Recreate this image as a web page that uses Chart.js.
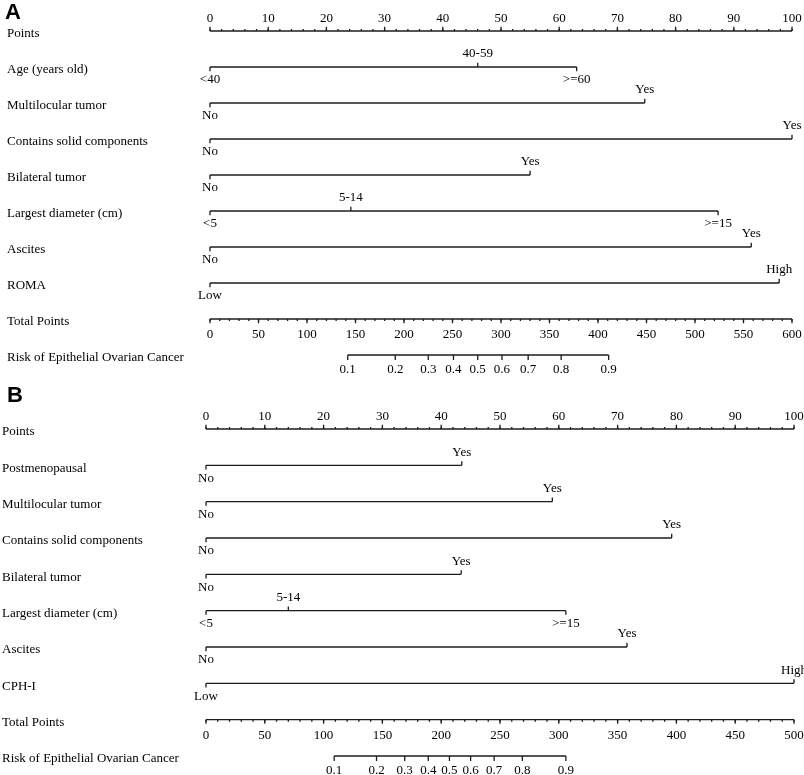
<!DOCTYPE html>
<html>
<head>
<meta charset="utf-8">
<script src="https://cdn.jsdelivr.net/npm/chart.js@4/dist/chart.umd.min.js"></script>
<style>
body { margin: 0; background: #fff; }
canvas { display: block; }
</style>
</head>
<body>
<canvas id="chartA" width="804" height="385"></canvas>
<canvas id="chartB" width="804" height="390"></canvas>
<script>
// ---- panel A data ----
var rowNamesA = ['Points', 'Age (years old)', 'Multilocular tumor', 'Contains solid components',
    'Bilateral tumor', 'Largest diameter (cm)', 'Ascites', 'ROMA', 'Total Points',
    'Risk of Epithelial Ovarian Cancer'];
var ageLevels = ['<40', '40-59', '>=60'];
var agePointsA = [0, 46, 63];
var yesNo = ['No', 'Yes'];
var multilocularPointsA = [0, 74.7];
var solidPointsA = [0, 100];
var bilateralPointsA = [0, 55];
var diameterLevels = ['<5', '5-14', '>=15'];
var diameterPointsA = [0, 24.2, 87.3];
var ascitesPointsA = [0, 93];
var romaLevels = ['Low', 'High'];
var romaPointsA = [0, 97.8];
var totalMaxA = 600;
var riskLabels = ['0.1', '0.2', '0.3', '0.4', '0.5', '0.6', '0.7', '0.8', '0.9'];
var riskTotalA = [142, 191, 225, 251, 276, 301, 328, 362, 411];

// ---- panel B data ----
var rowNamesB = ['Points', 'Postmenopausal', 'Multilocular tumor', 'Contains solid components',
    'Bilateral tumor', 'Largest diameter (cm)', 'Ascites', 'CPH-I', 'Total Points',
    'Risk of Epithelial Ovarian Cancer'];
var postmenoPointsB = [0, 43.5];
var multilocularPointsB = [0, 58.9];
var solidPointsB = [0, 79.2];
var bilateralPointsB = [0, 43.4];
var diameterPointsB = [0, 14, 61.2];
var ascitesPointsB = [0, 71.6];
var cphLevels = ['Low', 'High'];
var cphPointsB = [0, 100];
var totalMaxB = 500;
var riskTotalB = [109, 145, 169, 189, 207, 225, 245, 269, 306];

var pointsMajor = [0, 10, 20, 30, 40, 50, 60, 70, 80, 90, 100];

var INK = '#1c1c1c';
var FONT = '13px "Liberation Serif", "Times New Roman", serif';
var TICK = 0.115; // tick length, in row units

function range(from, to, step) {
    var out = [];
    for (var v = from; v <= to + 1e-9; v += step) out.push(v);
    return out;
}

// vertical tick segments hanging off a row, broken by null y
function tickSegs(xs, row, len) {
    var pts = [];
    xs.forEach(function (v, i) {
        var l = typeof len === 'function' ? len(i) : len;
        pts.push({x: v, y: row}, {x: v, y: row + l}, {x: v, y: null});
    });
    return pts;
}

function lineSet(data, axis) {
    return {
        data: data,
        xAxisID: axis || 'x',
        showLine: true,
        spanGaps: false,
        borderColor: INK,
        borderWidth: 1.3,
        pointRadius: 0,
        clip: false
    };
}

function drawNomogram(id, p) {
    var n = p.vars.length;
    var totalRow = n + 1, riskRow = n + 2;
    var datasets = [];

    // points axis (ticks upward)
    datasets.push(lineSet([{x: 0, y: 0}, {x: 100, y: 0}]));
    datasets.push(lineSet(tickSegs(pointsMajor, 0, -TICK)));
    datasets.push(lineSet(tickSegs(range(0, 100, 2), 0, -TICK / 2)));

    // variables
    p.vars.forEach(function (v, k) {
        var row = k + 1;
        datasets.push(lineSet([{x: Math.min.apply(null, v.points), y: row},
            {x: Math.max.apply(null, v.points), y: row}]));
        datasets.push(lineSet(tickSegs(v.points, row, function (i) {
            return i % 2 === 0 ? TICK : -TICK;
        })));
    });

    // total points axis (ticks downward)
    datasets.push(lineSet([{x: 0, y: totalRow}, {x: p.totalMax, y: totalRow}], 'xt'));
    datasets.push(lineSet(tickSegs(range(0, p.totalMax, 50), totalRow, TICK), 'xt'));
    datasets.push(lineSet(tickSegs(range(0, p.totalMax, 10), totalRow, TICK / 2), 'xt'));

    // risk axis
    datasets.push(lineSet([{x: p.riskTotals[0], y: riskRow},
        {x: p.riskTotals[p.riskTotals.length - 1], y: riskRow}], 'xt'));
    datasets.push(lineSet(tickSegs(p.riskTotals, riskRow, TICK * 1.2), 'xt'));

    var textPlugin = {
        id: 'nomoText',
        afterDatasetsDraw: function (chart) {
            var ctx = chart.ctx;
            var x = chart.scales.x, xt = chart.scales.xt, y = chart.scales.y;
            ctx.save();
            ctx.fillStyle = '#000';

            ctx.font = 'bold 22px "Liberation Sans", Arial, sans-serif';
            ctx.textAlign = 'left';
            ctx.textBaseline = 'alphabetic';
            ctx.fillText(p.letter, p.letterX, p.letterY);

            ctx.font = FONT;
            ctx.textBaseline = 'middle';
            p.rows.forEach(function (name, r) {
                ctx.fillText(name, p.labelX, y.getPixelForValue(r) + 3);
            });

            ctx.textAlign = 'center';
            pointsMajor.forEach(function (v) {
                ctx.fillText(String(v), x.getPixelForValue(v), y.getPixelForValue(0) - 12);
            });
            p.vars.forEach(function (v, k) {
                var py = y.getPixelForValue(k + 1);
                v.points.forEach(function (pt, i) {
                    ctx.fillText(v.levels[i], x.getPixelForValue(pt), py + (i % 2 === 0 ? 13 : -13));
                });
            });
            range(0, p.totalMax, 50).forEach(function (v) {
                ctx.fillText(String(v), xt.getPixelForValue(v), y.getPixelForValue(totalRow) + 16);
            });
            p.riskTotals.forEach(function (v, i) {
                ctx.fillText(riskLabels[i], xt.getPixelForValue(v), y.getPixelForValue(riskRow) + 15);
            });
            ctx.restore();
        }
    };

    return new Chart(document.getElementById(id), {
        type: 'scatter',
        data: { datasets: datasets },
        options: {
            responsive: false,
            animation: false,
            events: [],
            layout: { padding: p.pad },
            plugins: { legend: { display: false }, tooltip: { enabled: false } },
            scales: {
                x: { type: 'linear', min: 0, max: 100, display: false },
                xt: { type: 'linear', axis: 'x', min: 0, max: p.totalMax, display: false },
                y: { type: 'linear', min: 0, max: riskRow, reverse: true, display: false }
            }
        },
        plugins: [textPlugin]
    });
}

drawNomogram('chartA', {
    letter: 'A', letterX: 5, letterY: 19, labelX: 7,
    rows: rowNamesA,
    vars: [
        {levels: ageLevels, points: agePointsA},
        {levels: yesNo, points: multilocularPointsA},
        {levels: yesNo, points: solidPointsA},
        {levels: yesNo, points: bilateralPointsA},
        {levels: diameterLevels, points: diameterPointsA},
        {levels: yesNo, points: ascitesPointsA},
        {levels: romaLevels, points: romaPointsA}
    ],
    totalMax: totalMaxA,
    riskTotals: riskTotalA,
    pad: {left: 210, right: 12, top: 31, bottom: 30}
});

drawNomogram('chartB', {
    letter: 'B', letterX: 7, letterY: 17, labelX: 2,
    rows: rowNamesB,
    vars: [
        {levels: yesNo, points: postmenoPointsB},
        {levels: yesNo, points: multilocularPointsB},
        {levels: yesNo, points: solidPointsB},
        {levels: yesNo, points: bilateralPointsB},
        {levels: diameterLevels, points: diameterPointsB},
        {levels: yesNo, points: ascitesPointsB},
        {levels: cphLevels, points: cphPointsB}
    ],
    totalMax: totalMaxB,
    riskTotals: riskTotalB,
    pad: {left: 206, right: 10, top: 44, bottom: 19}
});
</script>
</body>
</html>
